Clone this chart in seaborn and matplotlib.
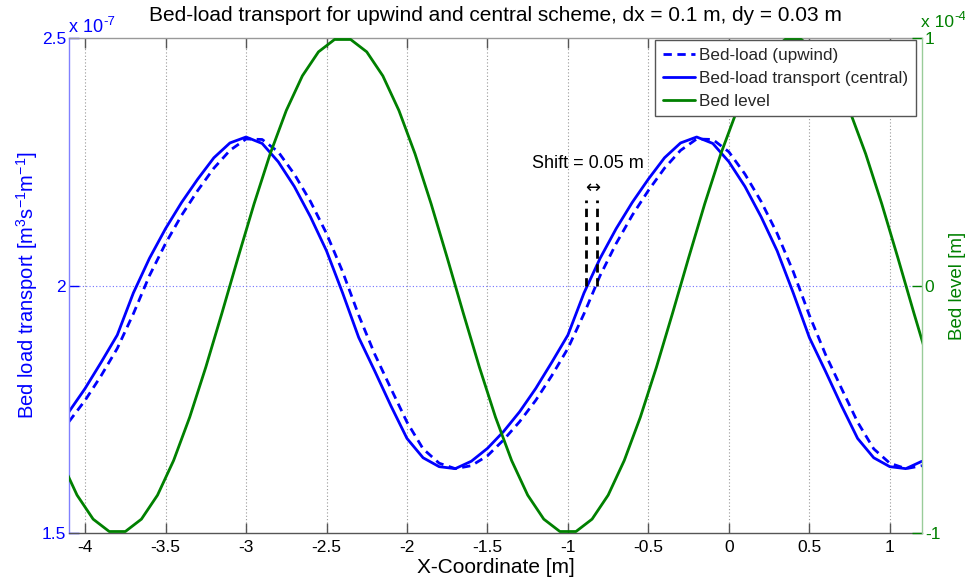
import numpy as np
import pandas as pd
import matplotlib
matplotlib.use("Agg")
import matplotlib.pyplot as plt
from matplotlib.lines import Line2D
import seaborn as sns

# ---------------- data ----------------
# bed-load transport (x 1e-7 m^3 s^-1 m^-1) at faces x = -4.1 ... 1.2 (dx = 0.1)
x_faces = np.round(np.arange(-4.1, 1.2001, 0.1), 2)
bedload_central = [
    1.745, 1.792, 1.845, 1.900, 1.985, 2.055, 2.115, 2.168, 2.215, 2.258, 2.288,
    2.300, 2.287, 2.250, 2.200, 2.139, 2.070, 1.985, 1.895, 1.827, 1.757, 1.691,
    1.652, 1.634, 1.630, 1.645, 1.671, 1.705, 1.745, 1.792, 1.845, 1.900, 1.985,
    2.055, 2.115, 2.168, 2.215, 2.258, 2.288,
    2.300, 2.287, 2.250, 2.200, 2.139, 2.070, 1.985, 1.895, 1.827, 1.757, 1.691,
    1.652, 1.634, 1.630, 1.645]
bedload_upwind = [
    1.725, 1.768, 1.818, 1.873, 1.943, 2.020, 2.085, 2.142, 2.192, 2.237, 2.273,
    2.296, 2.295, 2.270, 2.225, 2.170, 2.105, 2.028, 1.940, 1.861, 1.792, 1.724,
    1.670, 1.641, 1.630, 1.636, 1.656, 1.688, 1.725, 1.768, 1.818, 1.873, 1.943,
    2.020, 2.085, 2.142, 2.192, 2.237, 2.273,
    2.296, 2.295, 2.270, 2.225, 2.170, 2.105, 2.028, 1.940, 1.861, 1.792, 1.724,
    1.670, 1.641, 1.630, 1.636]
# bed level (x 1e-4 m) at cell centres x = -4.15 ... 1.25
x_cells = np.round(np.arange(-4.15, 1.2501, 0.1), 2)
bed_level = [
    -0.707, -0.847, -0.944, -0.994, -0.994, -0.944, -0.847, -0.707, -0.532, -0.330,
    -0.112, 0.112, 0.330, 0.532, 0.707, 0.847, 0.944, 0.994, 0.994, 0.944,
    0.847, 0.707, 0.532, 0.330, 0.112, -0.112, -0.330, -0.532,
    -0.707, -0.847, -0.944, -0.994, -0.994, -0.944, -0.847, -0.707, -0.532, -0.330,
    -0.112, 0.112, 0.330, 0.532, 0.707, 0.847, 0.944, 0.994, 0.994, 0.944,
    0.847, 0.707, 0.532, 0.330, 0.112, -0.112, -0.330]

x_ticks = [-4, -3.5, -3, -2.5, -2, -1.5, -1, -0.5, 0, 0.5, 1]
x_ticklabels = ["-4", "-3.5", "-3", "-2.5", "-2", "-1.5", "-1", "-0.5", "0", "0.5", "1"]
left_ticks = [1.5, 2, 2.5]
left_ticklabels = ["1.5", "2", "2.5"]
right_ticks = [-1, 0, 1]
right_ticklabels = ["-1", "0", "1"]
shift_x = [-0.886, -0.818]

title = "Bed-load transport for upwind and central scheme, dx = 0.1 m, dy = 0.03 m"
legend_labels = ["Bed-load (upwind)", "Bed-load transport (central)", "Bed level"]

df_load = pd.DataFrame({"x": x_faces, "central": bedload_central, "upwind": bedload_upwind})
df_bed = pd.DataFrame({"x": x_cells, "bed": bed_level})

# ---------------- style ----------------
sns.set_style("white")
plt.rcParams["font.family"] = ["Liberation Sans", "DejaVu Sans"]
plt.rcParams["mathtext.fontset"] = "custom"
plt.rcParams["mathtext.rm"] = "Liberation Sans"
plt.rcParams["mathtext.it"] = "Liberation Sans"

BLUE = "#0000ff"
GREEN = "#008000"
FS = 12.5

fig = plt.figure(figsize=(9.65, 5.79), dpi=100)
ax = fig.add_axes([69 / 965, 1 - 533 / 579, (922 - 69) / 965, (533 - 38) / 579])

sns.lineplot(data=df_load, x="x", y="upwind", ax=ax, color=BLUE, linewidth=2.0,
             linestyle=(0, (3, 2)), estimator=None, sort=False)
sns.lineplot(data=df_load, x="x", y="central", ax=ax, color=BLUE, linewidth=2.0,
             estimator=None, sort=False)

ax.set_xlim(-4.1, 1.2)
ax.set_ylim(1.5, 2.5)
ax.set_xticks(x_ticks)
ax.set_xticklabels(x_ticklabels)
ax.set_yticks(left_ticks)
ax.set_yticklabels(left_ticklabels)
ax.set_xlabel("X-Coordinate [m]", fontsize=15, color="black", labelpad=2)
ax.set_ylabel("Bed load transport [m$^{3}$s$^{-1}$m$^{-1}$]", fontsize=14.5, color=BLUE, labelpad=1)

for xv in x_ticks:
    ax.axvline(xv, color="#999999", linestyle=(0, (1, 2)), linewidth=0.8, zorder=0)
ax.axhline(2.0, color="#7070ff", linestyle=(0, (1, 2)), linewidth=0.8, zorder=0)

ax.tick_params(axis="x", direction="in", top=True, bottom=True, length=7, width=1,
               color="#555555", labelsize=FS, labelcolor="black", pad=5)
ax.tick_params(axis="y", direction="in", left=True, length=7, width=1,
               color=BLUE, labelsize=FS, labelcolor=BLUE, pad=2)
ax.spines["left"].set_color("#8080ff")
ax.spines["bottom"].set_color("#555555")
ax.spines["top"].set_color("#999999")
ax.spines["right"].set_visible(False)
for s in ax.spines.values():
    s.set_linewidth(1.0)

# shift annotation
for xv in shift_x:
    ax.plot([xv, xv], [2.0, 2.172], color="black", linewidth=2.0, linestyle=(0, (3, 2)), zorder=5)
ax.text(-0.845, 2.197, "\u2194", ha="center", va="center", fontsize=13, color="black",
        family=["DejaVu Sans"])
ax.text(-0.876, 2.2455, "Shift = 0.05 m", ha="center", va="center", fontsize=13, color="black")

# right axis
ax2 = ax.twinx()
sns.lineplot(data=df_bed, x="x", y="bed", ax=ax2, color=GREEN, linewidth=2.0,
             estimator=None, sort=False)
ax2.set_xlim(-4.1, 1.2)
ax2.set_ylim(-1, 1)
ax2.set_yticks(right_ticks)
ax2.set_yticklabels(right_ticklabels)
ax2.set_ylabel("Bed level [m]", fontsize=13.5, color=GREEN, labelpad=6)
ax2.tick_params(axis="y", direction="in", right=True, length=7, width=1,
                color=GREEN, labelsize=FS, labelcolor=GREEN, pad=2)
for k in ["left", "top", "bottom"]:
    ax2.spines[k].set_visible(False)
ax2.spines["right"].set_color("#99cc99")
ax2.spines["right"].set_linewidth(1.0)

ax.set_title(title, fontsize=15, color="black", pad=12)

# exponent labels ("x 10" with a raised exponent)
renderer = fig.canvas.get_renderer()


def exp_label(x_px, base_px, exponent, color, fs, fs_sup):
    t = fig.text(x_px / 965, 1 - base_px / 579, "x 10", color=color, fontsize=fs,
                 ha="left", va="baseline")
    bb = t.get_window_extent(renderer=renderer)
    fig.text(bb.x1 / 965 + 0.5 / 965, 1 - (base_px - fs * 0.55) / 579, exponent, color=color,
             fontsize=fs_sup, ha="left", va="baseline")


exp_label(69, 32, "-7", BLUE, 13, 9.5)
exp_label(921, 27, "-4", GREEN, 12.5, 9.5)

handles = [Line2D([], [], color=BLUE, lw=2.0, linestyle=(0, (3, 2))),
           Line2D([], [], color=BLUE, lw=2.0),
           Line2D([], [], color=GREEN, lw=2.0)]
leg = ax2.legend(handles, legend_labels, loc="upper right", bbox_to_anchor=(0.9925, 0.995),
                 fontsize=12.3, frameon=True, fancybox=False, framealpha=1,
                 edgecolor="#555555", handlelength=1.9, handletextpad=0.2,
                 labelspacing=0.45, borderpad=0.45, borderaxespad=0)
leg.get_frame().set_linewidth(1.0)
leg.set_zorder(10)

fig.savefig("out.png", dpi=100)
